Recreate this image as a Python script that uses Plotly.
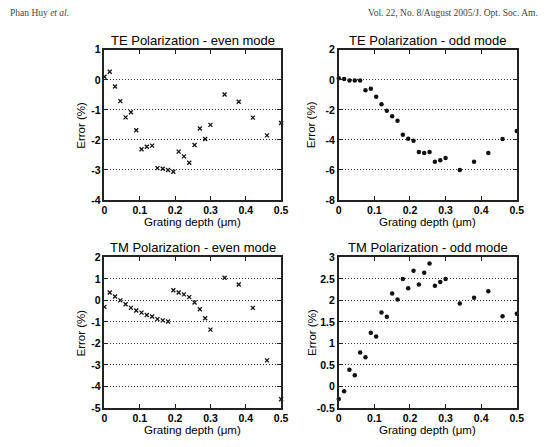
import plotly.graph_objects as go

# ---- data ----
depth = [0, 0.015, 0.03, 0.045, 0.06, 0.075, 0.09, 0.105, 0.12, 0.135, 0.15,
         0.165, 0.18, 0.195, 0.21, 0.225, 0.24, 0.255, 0.27, 0.285, 0.3,
         0.34, 0.38, 0.42, 0.46, 0.5]

te_even = [0.1, 0.27, -0.22, -0.71, -1.25, -1.08, -1.68, -2.31, -2.23, -2.19, -2.94,
           -2.96, -3.0, -3.06, -2.39, -2.55, -2.76, -2.17, -1.62, -1.97, -1.5,
           -0.49, -0.73, -1.26, -1.85, -1.44]

te_odd = [0.1, 0.05, -0.05, -0.05, -0.05, -0.7, -0.6, -1.13, -1.63, -2.06, -2.43,
          -2.73, -3.66, -3.92, -4.05, -4.8, -4.87, -4.8, -5.45, -5.35, -5.21,
          -6.0, -5.45, -4.87, -3.94, -3.4]

tm_even = [-0.3, 0.37, 0.18, 0.0, -0.18, -0.35, -0.47, -0.57, -0.68, -0.75, -0.87,
           -0.93, -0.98, 0.47, 0.37, 0.28, 0.15, -0.1, -0.41, -0.83, -1.36,
           1.05, 0.74, -0.35, -2.79, -4.6]

tm_odd = [-0.29, -0.11, 0.39, 0.26, 0.79, 0.68, 1.25, 1.16, 1.72, 1.62, 2.16,
          2.02, 2.5, 2.28, 2.69, 2.37, 2.64, 2.86, 2.34, 2.43, 2.5,
          1.93, 2.06, 2.21, 1.63, 1.69]

x_ticks = [0, 0.1, 0.2, 0.3, 0.4, 0.5]
x_tick_labels = ["0", "0.1", "0.2", "0.3", "0.4", "0.5"]

te_even_ticks = [1, 0, -1, -2, -3, -4]
te_even_labels = ["1", "0", "-1", "-2", "-3", "-4"]
te_odd_ticks = [2, 0, -2, -4, -6, -8]
te_odd_labels = ["2", "0", "-2", "-4", "-6", "-8"]
tm_even_ticks = [2, 1, 0, -1, -2, -3, -4, -5]
tm_even_labels = ["2", "1", "0", "-1", "-2", "-3", "-4", "-5"]
tm_odd_ticks = [3, 2.5, 2, 1.5, 1, 0.5, 0, -0.5]
tm_odd_labels = ["3", "2.5", "2", "1.5", "1", "0.5", "0", "-0.5"]

titles = ["TE Polarization - even mode", "TE Polarization - odd mode",
          "TM Polarization - even mode", "TM Polarization - odd mode"]

W, H = 549, 447

def px_x(v):
    return v / W

def px_y(v):
    return (H - v) / H

panels = [
    # (series, symbol, yticks, ylabels, yrange, xdom(px), ydom(px))
    (te_even, "x", te_even_ticks, te_even_labels, [-4, 1], (103.3, 283.3), (199.3, 45)),
    (te_odd, "dot", te_odd_ticks, te_odd_labels, [-8, 2], (342, 523.3), (199.3, 45)),
    (tm_even, "x", tm_even_ticks, tm_even_labels, [-5, 2], (103.3, 283.3), (413, 258.3)),
    (tm_odd, "dot", tm_odd_ticks, tm_odd_labels, [-0.5, 3], (342, 523.3), (413, 258.3)),
]

fig = go.Figure()
tick_font = dict(family="Liberation Sans, Arial, sans-serif", size=10.5, color="#000", weight=700)
label_font = dict(family="Liberation Sans, Arial, sans-serif", size=11.5, color="#000")
title_font = dict(family="Liberation Sans, Arial, sans-serif", size=13, color="#000")

annotations = []
for i, (ser, sym, yt, yl, yr, xd, yd) in enumerate(panels, start=1):
    xa = "x" if i == 1 else f"x{i}"
    ya = "y" if i == 1 else f"y{i}"
    if sym == "x":
        marker = dict(symbol="x-thin", size=4, line=dict(width=1.3, color="#111"), color="#111")
    else:
        marker = dict(symbol="circle", size=4.5, color="#111", line=dict(width=0))
    fig.add_trace(go.Scatter(x=depth, y=ser, mode="markers", marker=marker,
                             xaxis=xa, yaxis=ya, cliponaxis=False, showlegend=False))
    axis_common = dict(showline=True, linewidth=1.6, linecolor="#222", mirror="ticks",
                       ticks="inside", ticklen=4, tickwidth=1, tickcolor="#222",
                       zeroline=False, tickfont=tick_font, fixedrange=True)
    fig.layout[f"xaxis{'' if i == 1 else i}"] = dict(
        domain=[px_x(xd[0]), px_x(xd[1])], range=[0, 0.5], anchor=ya,
        tickvals=x_ticks, ticktext=x_tick_labels, showgrid=False, **axis_common)
    fig.layout[f"yaxis{'' if i == 1 else i}"] = dict(
        domain=[px_y(yd[0]), px_y(yd[1])], range=yr, anchor=xa,
        tickvals=yt, ticktext=yl, showgrid=True, gridcolor="#333", gridwidth=1,
        griddash="1px,2px", **axis_common)
    cx = (xd[0] + xd[1]) / 2
    # panel title
    annotations.append(dict(text=titles[i - 1], x=px_x(cx), y=px_y(yd[1] - 10),
                            xref="paper", yref="paper", showarrow=False,
                            xanchor="center", yanchor="middle", font=title_font))
    # x-axis title
    annotations.append(dict(text="Grating depth (μm)", x=px_x(cx), y=px_y(yd[0] + 22.5),
                            xref="paper", yref="paper", showarrow=False,
                            xanchor="center", yanchor="middle", font=label_font))
    # y-axis title
    annotations.append(dict(text="Error (%)", x=px_x(xd[0] - 24 - (0 if sym == "x" else 4)),
                            y=px_y((yd[0] + yd[1]) / 2),
                            xref="paper", yref="paper", showarrow=False, textangle=-90,
                            xanchor="center", yanchor="middle", font=label_font))

serif = dict(family="Liberation Serif, DejaVu Serif, serif", size=9.5, color="#444")
annotations.append(dict(text="Phan Huy <i>et al.</i>", x=px_x(5), y=px_y(7),
                        xref="paper", yref="paper", showarrow=False,
                        xanchor="left", yanchor="middle", font=serif))
annotations.append(dict(text="Vol. 22, No. 8/August 2005/J. Opt. Soc. Am.", x=px_x(547), y=px_y(7),
                        xref="paper", yref="paper", showarrow=False,
                        xanchor="right", yanchor="middle", font=serif))

fig.update_layout(width=W, height=H, margin=dict(l=0, r=0, t=0, b=0),
                  paper_bgcolor="white", plot_bgcolor="white",
                  annotations=annotations)

fig.write_html("out.html", config={"displayModeBar": False})
